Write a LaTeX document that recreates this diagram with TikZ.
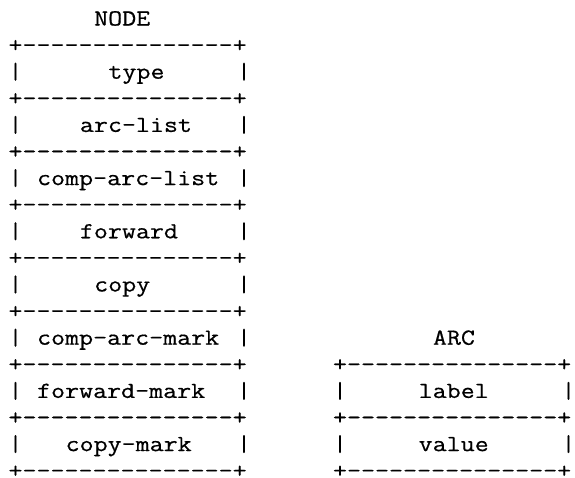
\documentclass[tikz,border=0pt]{standalone}
\usepackage{fontspec}
\newfontfamily\asciifont{Latin Modern Mono}[FakeStretch=1.183, FakeBold=0.6]
\tikzset{
  ascii/.style={anchor=base west, inner sep=0pt, outer sep=0pt,
    font=\asciifont\fontsize{23}{26}\selectfont},
}
\begin{document}
\begin{tikzpicture}[x=1pt, y=-1pt]
  \useasboundingbox (0,0) rectangle (575,477);
  \def\cw{14.28} % column width
  \def\lh{26.6}  % line height
  % NODE record
  \begin{scope}[shift={(8.5,25.5)}]
    \node[ascii] (node-title) at (6*\cw,0) {NODE};
    \foreach \r in {1,3,...,17}
      \node[ascii] (node-rule-\r) at (0,\r*\lh) {+---------------+};
    \foreach \lab/\c [count=\i] in {type/7, arc-list/5, comp-arc-list/2,
        forward/5, copy/6, comp-arc-mark/2, forward-mark/2, copy-mark/4} {
      \node[ascii] (node-l-\i) at (0,2*\i*\lh) {|};
      \node[ascii] (node-f-\i) at (\c*\cw,2*\i*\lh) {\lab};
      \node[ascii] (node-r-\i) at (16*\cw,2*\i*\lh) {|};
    }
  \end{scope}
  % ARC record
  \begin{scope}[shift={(333,25.5)}]
    \node[ascii] (arc-title) at (7*\cw,12*\lh) {ARC};
    \foreach \r in {13,15,17}
      \node[ascii] (arc-rule-\r) at (0,\r*\lh) {+---------------+};
    \foreach \lab/\c [count=\i] in {label/6, value/6} {
      \node[ascii] (arc-l-\i) at (0,{(12+2*\i)*\lh}) {|};
      \node[ascii] (arc-f-\i) at (\c*\cw,{(12+2*\i)*\lh}) {\lab};
      \node[ascii] (arc-r-\i) at (16*\cw,{(12+2*\i)*\lh}) {|};
    }
  \end{scope}
\end{tikzpicture}
\end{document}
